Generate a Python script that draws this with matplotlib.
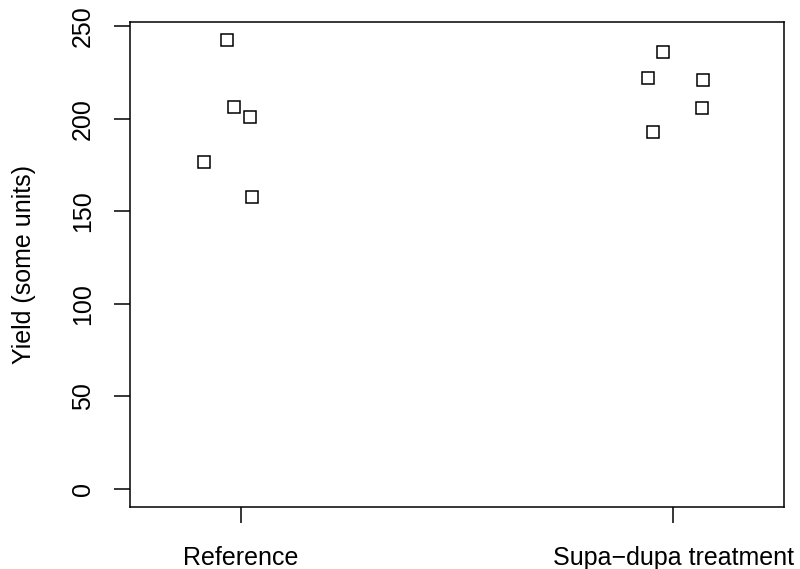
import matplotlib
matplotlib.use("Agg")
import matplotlib.pyplot as plt

plt.rcParams['font.family'] = ['Liberation Sans', 'DejaVu Sans']

groups = ["Reference", "Supa\u2212dupa treatment"]
# jittered x positions and yields
ref_x = [0.968, 0.984, 1.021, 0.915, 1.025]
ref_y = [242.3, 206.1, 200.7, 176.6, 157.8]
trt_x = [1.977, 1.941, 2.068, 2.066, 1.953]
trt_y = [235.8, 221.8, 220.7, 205.6, 192.8]
yticks = [0, 50, 100, 150, 200, 250]

fig = plt.figure(figsize=(8, 5.69), dpi=100)
ax = fig.add_axes([0.1625, 0.109, 0.8175, 0.8523])

for xs, ys in [(ref_x, ref_y), (trt_x, trt_y)]:
    ax.plot(xs, ys, linestyle="none", marker="s", ms=8.2,
            mfc="none", mec="black", mew=1.1)

ax.set_xlim(0.744, 2.256)
ax.set_ylim(-9.7, 252.2)
ax.set_xticks([1, 2])
ax.set_xticklabels(groups, fontsize=18)
ax.set_yticks(yticks)
ax.set_yticklabels([str(t) for t in yticks], fontsize=18, rotation=90, va="center")
ax.tick_params(direction="out", length=11.3, width=1.1)
ax.tick_params(axis="y", pad=14)
ax.tick_params(axis="x", pad=17)
for s in ax.spines.values():
    s.set_linewidth(1.1)
ax.set_ylabel("Yield (some units)", fontsize=18, labelpad=25)

fig.savefig("out.png", dpi=100)
